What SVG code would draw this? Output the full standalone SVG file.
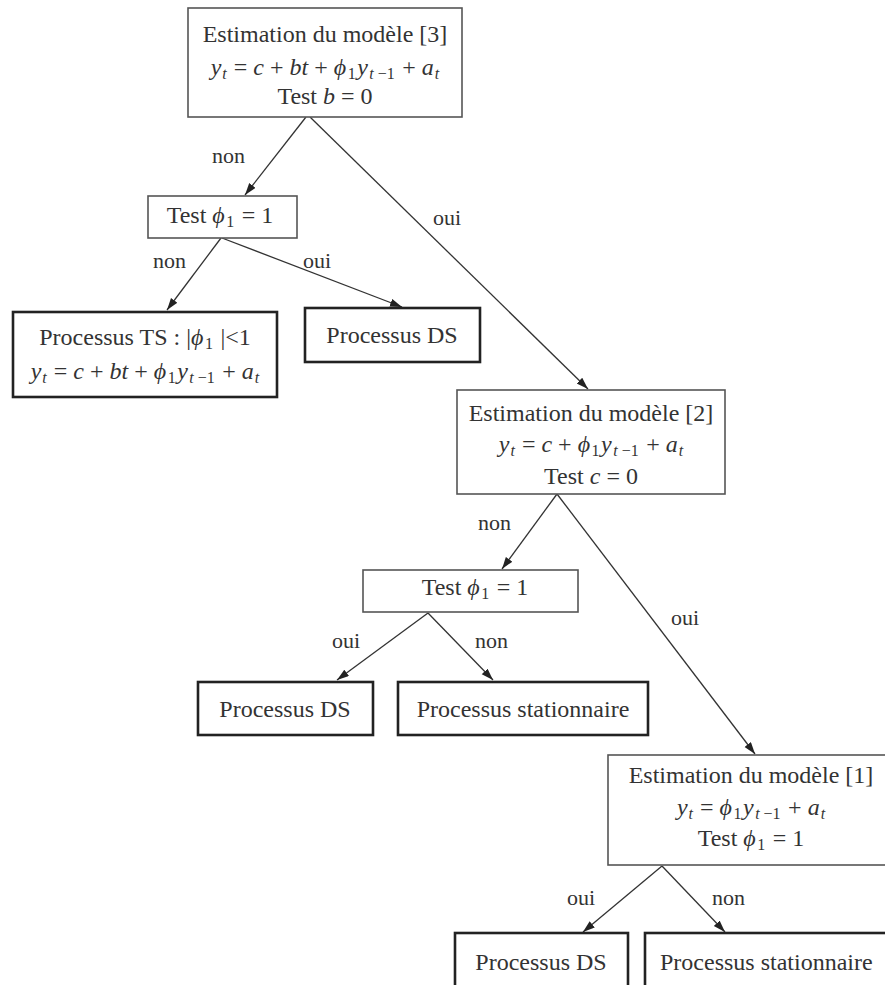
<svg xmlns="http://www.w3.org/2000/svg" width="885" height="985" viewBox="0 0 885 985">
<defs>
<style>
text{font-family:"Liberation Serif","Times New Roman",serif;font-size:24px;fill:#333;}
.c{text-anchor:middle;}
.i{font-style:italic;}
.s{font-size:16px;}
.lbl{font-size:22px;}
.dec{fill:#fff;stroke:#555;stroke-width:1.6;}
.term{fill:#fff;stroke:#222;stroke-width:2.6;}
.ln{stroke:#333;stroke-width:1.3;fill:none;}
</style>
<marker id="ah" markerUnits="userSpaceOnUse" markerWidth="13" markerHeight="9" refX="12" refY="4" orient="auto">
<path d="M0,0 L12,4 L0,8 z" fill="#222"/>
</marker>
</defs>
<rect width="885" height="985" fill="#fff"/>

<g id="connectors">
<line class="ln" x1="306" y1="117" x2="245" y2="195" marker-end="url(#ah)"/>
<line class="ln" x1="310" y1="117" x2="588" y2="389" marker-end="url(#ah)"/>
<line class="ln" x1="221" y1="238" x2="167" y2="310" marker-end="url(#ah)"/>
<line class="ln" x1="222" y1="238" x2="402" y2="307" marker-end="url(#ah)"/>
<line class="ln" x1="557" y1="494" x2="502" y2="569" marker-end="url(#ah)"/>
<line class="ln" x1="557" y1="494" x2="755" y2="754" marker-end="url(#ah)"/>
<line class="ln" x1="428" y1="613" x2="337" y2="680" marker-end="url(#ah)"/>
<line class="ln" x1="428" y1="613" x2="493" y2="680" marker-end="url(#ah)"/>
<line class="ln" x1="662" y1="866" x2="583" y2="932" marker-end="url(#ah)"/>
<line class="ln" x1="662" y1="866" x2="725" y2="932" marker-end="url(#ah)"/>
<text class="lbl" x="212" y="163">non</text>
<text class="lbl" x="433" y="225">oui</text>
<text class="lbl" x="153" y="268">non</text>
<text class="lbl" x="303" y="268">oui</text>
<text class="lbl" x="478" y="530">non</text>
<text class="lbl" x="671" y="625">oui</text>
<text class="lbl" x="332" y="648">oui</text>
<text class="lbl" x="475" y="648">non</text>
<text class="lbl" x="567" y="905">oui</text>
<text class="lbl" x="712" y="905">non</text>
</g>

<g id="estim3">
<rect class="dec" x="188" y="8" width="274" height="109"/>
<text class="c" x="325" y="42">Estimation du modèle [3]</text>
<text class="c" x="325" y="75"><tspan class="i">y</tspan><tspan class="s i" dx="1" dy="4">t</tspan><tspan dx="1" dy="-4"> = </tspan><tspan class="i">c</tspan> + <tspan class="i">bt</tspan> + <tspan class="i">ϕ</tspan><tspan class="s" dx="1.5" dy="4">1</tspan><tspan class="i" dx="1.5" dy="-4">y</tspan><tspan class="s" dx="1.5" dy="4"><tspan class="i">t</tspan> −1</tspan><tspan dx="1.5" dy="-4"> + </tspan><tspan class="i">a</tspan><tspan class="s i" dx="1" dy="4">t</tspan></text>
<text class="c" x="325" y="104">Test <tspan class="i">b</tspan> = 0</text>
</g>

<g id="test1">
<rect class="dec" x="148" y="196" width="149" height="42"/>
<text class="c" x="220" y="223">Test <tspan class="i">ϕ</tspan><tspan class="s" dx="1.5" dy="4">1</tspan><tspan dx="1.5" dy="-4"> = 1</tspan></text>
</g>

<g id="ts">
<rect class="term" x="13" y="312" width="264" height="85"/>
<text class="c" x="145" y="345">Processus TS : |<tspan class="i">ϕ</tspan><tspan class="s" dx="1.5" dy="4">1</tspan><tspan dx="1.5" dy="-4"> |&lt;1</tspan></text>
<text class="c" x="145" y="379"><tspan class="i">y</tspan><tspan class="s i" dx="1" dy="4">t</tspan><tspan dx="1" dy="-4"> = </tspan><tspan class="i">c</tspan> + <tspan class="i">bt</tspan> + <tspan class="i">ϕ</tspan><tspan class="s" dx="1.5" dy="4">1</tspan><tspan class="i" dx="1.5" dy="-4">y</tspan><tspan class="s" dx="1.5" dy="4"><tspan class="i">t</tspan> −1</tspan><tspan dx="1.5" dy="-4"> + </tspan><tspan class="i">a</tspan><tspan class="s i" dx="1" dy="4">t</tspan></text>
</g>

<g id="ds1">
<rect class="term" x="305" y="308" width="175" height="54"/>
<text class="c" x="392" y="343">Processus DS</text>
</g>

<g id="estim2">
<rect class="dec" x="457" y="390" width="268" height="104"/>
<text class="c" x="591" y="421">Estimation du modèle [2]</text>
<text class="c" x="591" y="452"><tspan class="i">y</tspan><tspan class="s i" dx="1" dy="4">t</tspan><tspan dx="1" dy="-4"> = </tspan><tspan class="i">c</tspan> + <tspan class="i">ϕ</tspan><tspan class="s" dx="1.5" dy="4">1</tspan><tspan class="i" dx="1.5" dy="-4">y</tspan><tspan class="s" dx="1.5" dy="4"><tspan class="i">t</tspan> −1</tspan><tspan dx="1.5" dy="-4"> + </tspan><tspan class="i">a</tspan><tspan class="s i" dx="1" dy="4">t</tspan></text>
<text class="c" x="591" y="484">Test <tspan class="i">c</tspan> = 0</text>
</g>

<g id="test2">
<rect class="dec" x="363" y="570" width="215" height="42"/>
<text class="c" x="475" y="595">Test <tspan class="i">ϕ</tspan><tspan class="s" dx="1.5" dy="4">1</tspan><tspan dx="1.5" dy="-4"> = 1</tspan></text>
</g>

<g id="ds2">
<rect class="term" x="198" y="682" width="175" height="53"/>
<text class="c" x="285" y="717">Processus DS</text>
</g>

<g id="stat2">
<rect class="term" x="398" y="682" width="250" height="53"/>
<text class="c" x="523" y="717">Processus stationnaire</text>
</g>

<g id="estim1">
<rect class="dec" x="608" y="755" width="290" height="110"/>
<text class="c" x="751" y="783">Estimation du modèle [1]</text>
<text class="c" x="751" y="815"><tspan class="i">y</tspan><tspan class="s i" dx="1" dy="4">t</tspan><tspan dx="1" dy="-4"> = </tspan><tspan class="i">ϕ</tspan><tspan class="s" dx="1.5" dy="4">1</tspan><tspan class="i" dx="1.5" dy="-4">y</tspan><tspan class="s" dx="1.5" dy="4"><tspan class="i">t</tspan> −1</tspan><tspan dx="1.5" dy="-4"> + </tspan><tspan class="i">a</tspan><tspan class="s i" dx="1" dy="4">t</tspan></text>
<text class="c" x="751" y="846">Test  <tspan class="i">ϕ</tspan><tspan class="s" dx="1.5" dy="4">1</tspan><tspan dx="1.5" dy="-4"> = 1</tspan></text>
</g>

<g id="ds3">
<rect class="term" x="455" y="933" width="173" height="65"/>
<text class="c" x="541" y="970">Processus DS</text>
</g>

<g id="stat3">
<rect class="term" x="645" y="933" width="250" height="65"/>
<text x="660" y="970">Processus stationnaire</text>
</g>
</svg>
